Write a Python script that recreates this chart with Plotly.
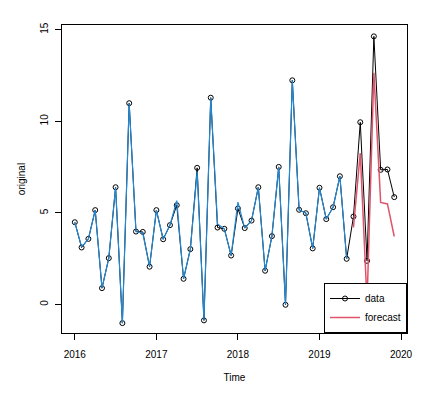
import plotly.graph_objects as go

start_year = 2016
data_values = [4.49, 3.11, 3.58, 5.15, 0.89, 2.53, 6.40, -1.02, 10.99, 3.98, 3.96, 2.06,
               5.15, 3.56, 4.33, 5.42, 1.40, 3.02, 7.46, -0.87, 11.29, 4.20, 4.13, 2.67,
               5.24, 4.17, 4.58, 6.40, 1.84, 3.73, 7.51, -0.02, 12.24, 5.17, 4.98, 3.06,
               6.37, 4.66, 5.31, 7.00, 2.49, 4.80, 9.95, 2.38, 14.64, 7.35, 7.37, 5.86]
fitted_values = [4.49, 3.14, 3.58, 5.15, 0.89, 2.53, 6.40, -1.02, 10.99, 3.98, 3.90, 2.06,
                 5.15, 3.56, 4.33, 5.67, 1.40, 3.02, 7.25, -0.87, 11.29, 4.40, 4.13, 2.67,
                 5.59, 4.17, 4.58, 6.40, 1.84, 3.73, 7.51, -0.02, 12.24, 5.17, 4.98, 3.06,
                 6.37, 4.66, 5.31, 7.00, 2.49]
forecast_values = [4.20, 8.26, 0.10, 12.65, 5.57, 5.49, 3.71]
x_ticks = [2016, 2017, 2018, 2019, 2020]
y_ticks = [0, 5, 10, 15]

t_data = [start_year + i / 12 for i in range(len(data_values))]
t_fit = t_data[:len(fitted_values)]
t_fc = t_data[len(data_values) - len(forecast_values):]

font = "Liberation Sans, Arial, sans-serif"

fig = go.Figure()
fig.add_trace(go.Scatter(
    x=t_data, y=data_values, mode="lines+markers", name="data",
    line=dict(color="black", width=1),
    marker=dict(symbol="circle-open", size=5, color="black", line=dict(width=1)),
))
fig.add_trace(go.Scatter(
    x=t_fit, y=fitted_values, mode="lines", showlegend=False,
    line=dict(color="#2288d4", width=1.2),
))
fig.add_trace(go.Scatter(
    x=t_fc, y=forecast_values, mode="lines", name="forecast",
    line=dict(color="#DF536B", width=1.5),
))

axis_common = dict(
    showgrid=False, zeroline=False, showline=True, mirror=True,
    linecolor="black", linewidth=1, ticks="outside", ticklen=6,
    tickcolor="black", tickfont=dict(family=font, size=10, color="black"),
)

fig.update_xaxes(range=[2015.843, 2020.073], tickvals=x_ticks, ticklabelstandoff=6,
                 title=dict(text="Time", font=dict(family=font, size=10, color="black"), standoff=14),
                 **axis_common)
fig.update_yaxes(range=[-1.56, 15.26], tickvals=y_ticks, tickangle=-90, ticklabelstandoff=3,
                 title=dict(text="original", font=dict(family=font, size=10, color="black"), standoff=11),
                 **axis_common)

fig.update_layout(
    width=444, height=398,
    margin=dict(l=62, r=37, t=25, b=65, autoexpand=False),
    plot_bgcolor="white", paper_bgcolor="white",
    font=dict(family=font, size=10, color="black"),
    legend=dict(x=1, y=0, xanchor="right", yanchor="bottom",
                bordercolor="black", borderwidth=1, bgcolor="white",
                itemwidth=30, font=dict(family=font, size=10, color="black"),
                tracegroupgap=0),
)

fig.write_html("out.html", config={"displayModeBar": False},
               post_script="document.body.style.margin='0';")
